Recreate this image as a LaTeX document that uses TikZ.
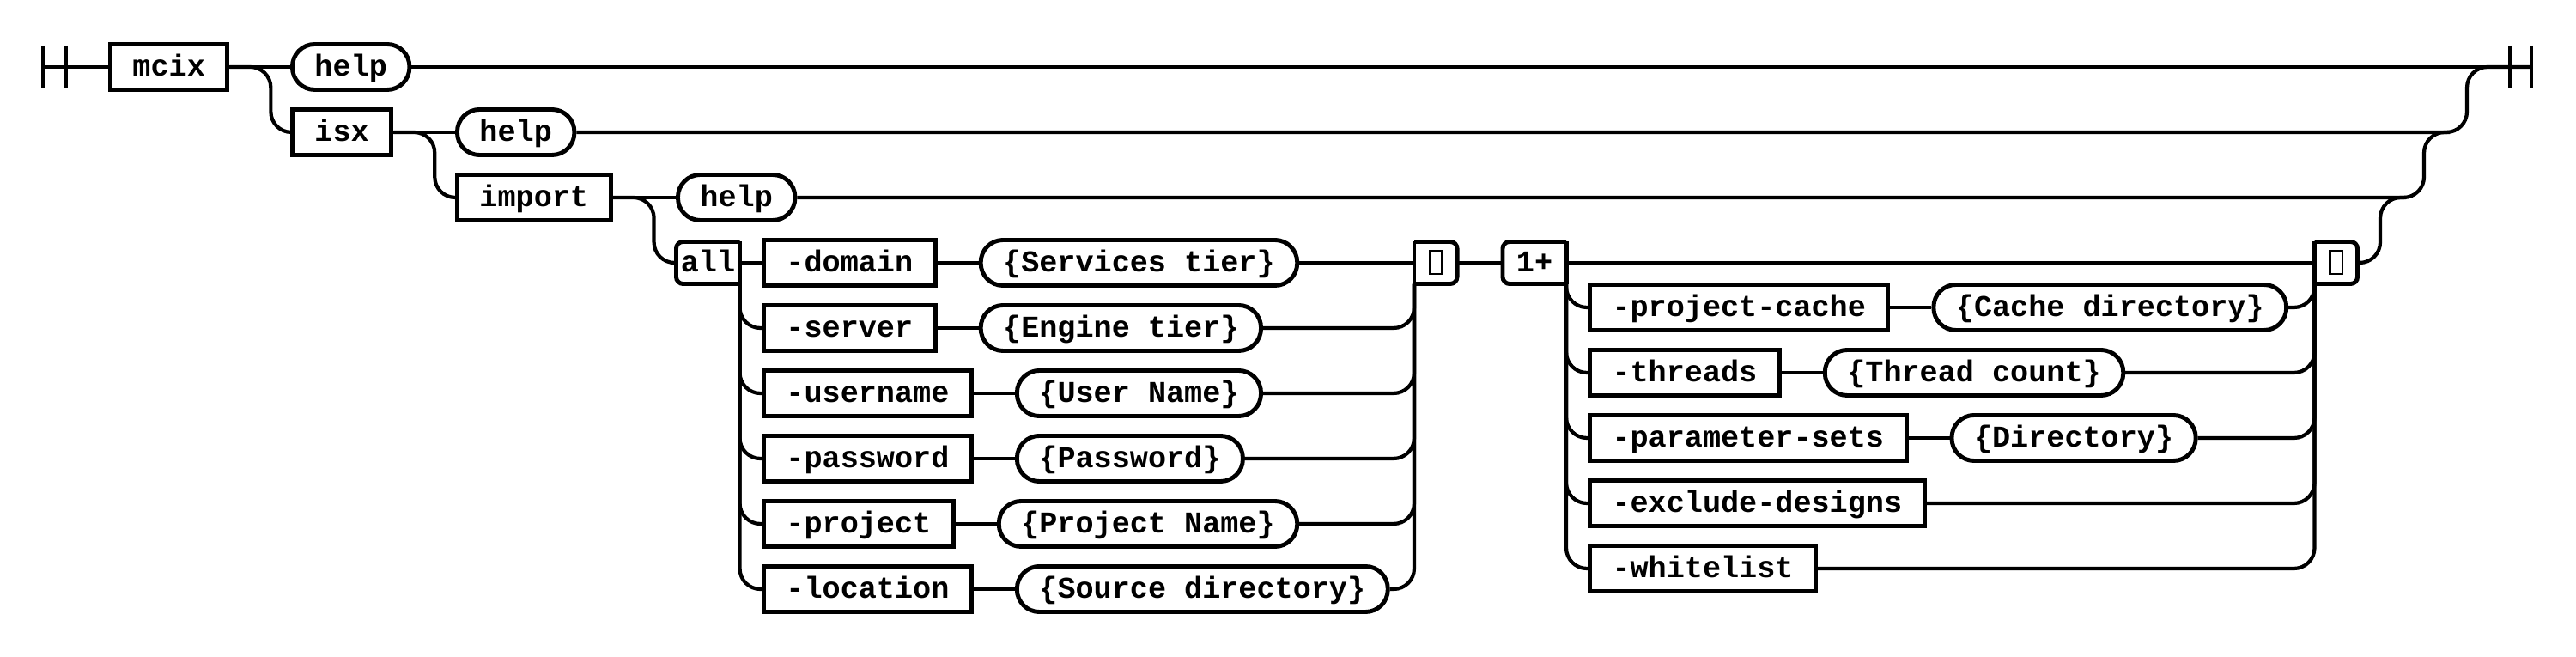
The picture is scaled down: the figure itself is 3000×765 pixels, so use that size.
\documentclass[tikz,border=0pt]{standalone}
\usepackage{fontspec}
\setmonofont{Liberation Mono}
\usetikzlibrary{positioning}

\begin{document}
\begin{tikzpicture}[x=0.01cm, y=-0.01cm,
    track/.style ={line width=1.2pt, rounded corners=0.24cm},
    edge/.style ={line width=1.4pt},
    keyword/.style ={draw, line width=1.4pt, inner xsep=0.26cm, inner ysep=0pt,
      minimum height=0.53cm, text height=8pt, text depth=2.3pt,
      font=\ttfamily\bfseries},
    value/.style ={keyword, rounded corners=0.26cm},
    tag/.style ={inner sep=0pt, outer sep=0pt, minimum width=0.74cm,
      minimum height=0.49cm, text height=8pt, text depth=2.3pt,
      font=\ttfamily\bfseries},
    loopbox/.style ={tag, minimum width=0.5cm},
    tofu/.style ={draw, line width=0.7pt, inner sep=0pt, outer sep=0pt,
      minimum width=0.145cm, minimum height=0.265cm}]
   \useasboundingbox (0,0) rectangle (3000,765);

   \coordinate (begin) at (50,78);
   \coordinate (finish) at (2948,78);
   \coordinate (m1) at (2873,78);
   \coordinate (m2) at (2823,154);
   \coordinate (m3) at (2772,230);

   \node[keyword, anchor=west] (mcix) at (126,78) {mcix};
   \node[value, anchor=west] (help) at (338,78) {help};
   \node[keyword, anchor=west] (isx) at (338,154) {isx};
   \node[value, anchor=west] (isxhelp) at (530,154) {help};
   \node[keyword, anchor=west] (import) at (530,230) {import};
   \node[value, anchor=west] (importhelp) at (787,230) {help};

   \node[tag] (all) at (824.5,306) {all};
   \node[keyword, anchor=west] (domain) at (887,306) {-domain};
   \node[value, right=0.48cm of domain] (domainval) {\{Services tier\}};
   \node[keyword, anchor=west] (server) at (887,382) {-server};
   \node[value, right=0.48cm of server] (serverval) {\{Engine tier\}};
   \node[keyword, anchor=west] (username) at (887,458) {-username};
   \node[value, right=0.48cm of username] (userval) {\{User Name\}};
   \node[keyword, anchor=west] (password) at (887,534) {-password};
   \node[value, right=0.48cm of password] (passval) {\{Password\}};
   \node[keyword, anchor=west] (project) at (887,610) {-project};
   \node[value, right=0.48cm of project] (projval) {\{Project Name\}};
   \node[keyword, anchor=west] (location) at (887,686) {-location};
   \node[value, right=0.48cm of location] (locval) {\{Source directory\}};
   \node[loopbox] (loopA) at (1672,306) {};
   \node[tofu] (tofuA) at (loopA) {};

   \node[tag] (repeat) at (1787,306) {1+};
   \node[keyword, anchor=west] (cache) at (1849,358) {-project-cache};
   \node[value, right=0.48cm of cache] (cacheval) {\{Cache directory\}};
   \node[keyword, anchor=west] (threads) at (1849,434) {-threads};
   \node[value, right=0.48cm of threads] (threadval) {\{Thread count\}};
   \node[keyword, anchor=west] (params) at (1849,510) {-parameter-sets};
   \node[value, right=0.48cm of params] (paramval) {\{Directory\}};
   \node[keyword, anchor=west] (exclude) at (1849,586) {-exclude-designs};
   \node[keyword, anchor=west] (whitelist) at (1849,662) {-whitelist};
   \node[loopbox] (loopB) at (2720.5,306) {};
   \node[tofu] (tofuB) at (loopB) {};


   \draw[track] (begin) ++(0,-25) -- ++(0,50);
   \draw[track] (begin) ++(27,-25) -- ++(0,50);
   \draw[track] (finish) ++(0,-25) -- ++(0,50);
   \draw[track] (finish) ++(-25,-25) -- ++(0,50);

   \draw[track] (begin) -- (mcix);
   \draw[track] (mcix) -- (help);
   \draw[track] (help) -- (finish);
   \draw[track] (mcix.east) -- ++(48,0) |- (isx.west);
   \draw[track] (isx) -- (isxhelp);
   \draw[track] (isxhelp.east) -| (m1) -- (finish);
   \draw[track] (isx.east) -- ++(48,0) |- (import.west);
   \draw[track] (import) -- (importhelp);
   \draw[track] (importhelp.east) -| (m2) -- ++(30,0);
   \draw[track] (import.east) -- ++(48,0) |- (all.west);

   \draw[edge, rounded corners=0.08cm] (all.north east) -- (all.north west) -- (all.south west) -- (all.south east);
   \draw[edge] (all.north east) -- (all.south east);
   \draw[track] (all) -- (domain);
   \draw[track] (all.south east) |- (server.west);
   \draw[track] (all.south east) |- (username.west);
   \draw[track] (all.south east) |- (password.west);
   \draw[track] (all.south east) |- (project.west);
   \draw[track] (all.south east) |- (location.west);

   \draw[track] (domain) -- (domainval);
   \draw[track] (server) -- (serverval);
   \draw[track] (username) -- (userval);
   \draw[track] (password) -- (passval);
   \draw[track] (project) -- (projval);
   \draw[track] (location) -- (locval);

   \draw[track] (domainval) -- (loopA);
   \draw[track] (serverval.east) -| (loopA.south west);
   \draw[track] (userval.east) -| (loopA.south west);
   \draw[track] (passval.east) -| (loopA.south west);
   \draw[track] (projval.east) -| (loopA.south west);
   \draw[track] (locval.east) -| (loopA.south west);
   \draw[edge, rounded corners=0.08cm] (loopA.north west) -- (loopA.north east) -- (loopA.south east) -- (loopA.south west);
   \draw[edge] (loopA.north west) -- (loopA.south west);

   \draw[track] (loopA) -- (repeat);
   \draw[edge, rounded corners=0.08cm] (repeat.north east) -- (repeat.north west) -- (repeat.south west) -- (repeat.south east);
   \draw[edge] (repeat.north east) -- (repeat.south east);
   \draw[track] (repeat) -- (loopB);
   \draw[track] (repeat.south east) |- (cache.west);
   \draw[track] (repeat.south east) |- (threads.west);
   \draw[track] (repeat.south east) |- (params.west);
   \draw[track] (repeat.south east) |- (exclude.west);
   \draw[track] (repeat.south east) |- (whitelist.west);

   \draw[track] (cache) -- (cacheval);
   \draw[track] (threads) -- (threadval);
   \draw[track] (params) -- (paramval);

   \draw[track] (cacheval.east) -| (loopB.south west);
   \draw[track] (threadval.east) -| (loopB.south west);
   \draw[track] (paramval.east) -| (loopB.south west);
   \draw[track] (exclude.east) -| (loopB.south west);
   \draw[track] (whitelist.east) -| (loopB.south west);
   \draw[edge, rounded corners=0.08cm] (loopB.north west) -- (loopB.north east) -- (loopB.south east) -- (loopB.south west);
   \draw[edge] (loopB.north west) -- (loopB.south west);
   \draw[track] (loopB.east) -| (m3) -- ++(30,0);

 \end{tikzpicture}
\end{document}
